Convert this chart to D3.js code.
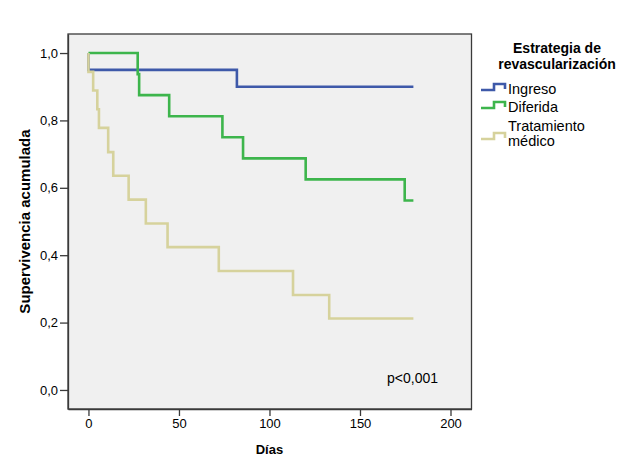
<!DOCTYPE html>
<html>
<head>
<meta charset="utf-8">
<script src="https://cdnjs.cloudflare.com/ajax/libs/d3/7.8.5/d3.min.js"></script>
<style>
body { margin: 0; background: #fff; }
text { font-family: "Liberation Sans", Arial, sans-serif; fill: #000; }
</style>
</head>
<body>
<div id="chart"></div>
<script>
// Kaplan-Meier steps (days, cumulative survival)
var ingreso_days = [0, 0, 82, 179.5];
var ingreso_surv = [1.0, 0.95, 0.90, 0.90];

var diferida_days = [0, 27.2, 28, 44.6, 74, 85.4, 120, 174.7, 179.5];
var diferida_surv = [1.0, 0.9375, 0.875, 0.8125, 0.75, 0.6875, 0.625, 0.5625, 0.5625];

var medico_days = [0, 0, 2.6, 4.9, 5.8, 10.9, 13.7, 22.2, 31.7, 43.7, 72, 113, 133, 179.5];
var medico_surv = [1.0, 0.944, 0.889, 0.833, 0.778, 0.706, 0.636, 0.565, 0.494, 0.424, 0.353, 0.282, 0.212, 0.212];

var series_names = ["Ingreso", "Diferida", "Tratamiento médico"];
var series_colors = ["#3e59a9", "#3db54c", "#d6d29c"];

var x_ticks = [0, 50, 100, 150, 200];
var y_ticks = [0, 0.2, 0.4, 0.6, 0.8, 1.0];

function draw_chart()
{
	var width = 629, height = 471;
	var pLeft = 68, pRight = 471.5, pTop = 34, pBottom = 409;

	var svg = d3.select("#chart").append("svg")
		.attr("width", width)
		.attr("height", height);

	var x = d3.scaleLinear().domain([-11.3, 211.6]).range([pLeft, pRight]);
	var y = d3.scaleLinear().domain([-0.0565, 1.0565]).range([pBottom, pTop]);

	// plot background and frame
	svg.append("rect")
		.attr("x", pLeft).attr("y", pTop)
		.attr("width", pRight - pLeft).attr("height", pBottom - pTop)
		.attr("fill", "#f0f0f0")
		.attr("stroke", "#3a3a3a")
		.attr("stroke-width", 1.3);

	var fmt = function(d) { return d3.format(".1f")(d).replace(".", ","); };

	var xAxis = svg.append("g")
		.attr("transform", "translate(0," + pBottom + ")")
		.call(d3.axisBottom(x).tickValues(x_ticks).tickSizeInner(7).tickSizeOuter(0).tickPadding(3));
	var yAxis = svg.append("g")
		.attr("transform", "translate(" + pLeft + ",0)")
		.call(d3.axisLeft(y).tickValues(y_ticks).tickSizeInner(8).tickSizeOuter(0).tickPadding(2).tickFormat(fmt));

	[xAxis, yAxis].forEach(function(a) {
		a.select(".domain").attr("stroke", "#3a3a3a").attr("stroke-width", 1.3);
		a.selectAll(".tick line").attr("stroke", "#3a3a3a").attr("stroke-width", 1.3);
		a.selectAll(".tick text")
			.style("font-family", "Liberation Sans, Arial, sans-serif")
			.style("font-size", "13px")
			.attr("fill", "#222");
	});

	// curves
	var line = d3.line()
		.x(function(d) { return x(d[0]); })
		.y(function(d) { return y(d[1]); })
		.curve(d3.curveStepAfter);

	var all_series = [
		d3.zip(ingreso_days, ingreso_surv),
		d3.zip(diferida_days, diferida_surv),
		d3.zip(medico_days, medico_surv)
	];

	all_series.forEach(function(s, i) {
		svg.append("path")
			.attr("d", line(s))
			.attr("fill", "none")
			.attr("stroke", series_colors[i])
			.attr("stroke-width", 2.6);
	});

	// axis titles
	svg.append("text")
		.attr("x", x(100)).attr("y", 454)
		.attr("text-anchor", "middle")
		.style("font-size", "13px").style("font-weight", "bold")
		.text("Días");

	svg.append("text")
		.attr("transform", "translate(30," + ((pTop + pBottom) / 2) + ") rotate(-90)")
		.attr("text-anchor", "middle")
		.style("font-size", "15px").style("font-weight", "bold")
		.text("Supervivencia acumulada");

	svg.append("text")
		.attr("x", 387).attr("y", 383)
		.style("font-size", "14px")
		.text("p<0,001");

	// legend
	var lg = svg.append("g");
	lg.append("text").attr("x", 557).attr("y", 53)
		.attr("text-anchor", "middle")
		.style("font-size", "14px").style("font-weight", "bold")
		.text("Estrategia de");
	lg.append("text").attr("x", 557).attr("y", 69)
		.attr("text-anchor", "middle")
		.style("font-size", "14px").style("font-weight", "bold")
		.text("revascularización");

	var legend_y = [90, 108, 139];
	series_names.forEach(function(name, i) {
		var yy = legend_y[i];
		lg.append("path")
			.attr("d", "M481," + yy + " H494 V" + (yy - 6) + " H505 V" + (yy - 1))
			.attr("fill", "none")
			.attr("stroke", series_colors[i])
			.attr("stroke-width", 2.6);
		var parts = name == "Tratamiento médico" ? ["Tratamiento", "médico"] : [name];
		var t = lg.append("text")
			.attr("x", 508)
			.attr("y", parts.length == 1 ? yy + 4 : yy - 8)
			.style("font-size", "14.5px");
		parts.forEach(function(p, j) {
			t.append("tspan").attr("x", 508).attr("dy", j == 0 ? 0 : 15).text(p);
		});
	});
}

draw_chart();
</script>
</body>
</html>
